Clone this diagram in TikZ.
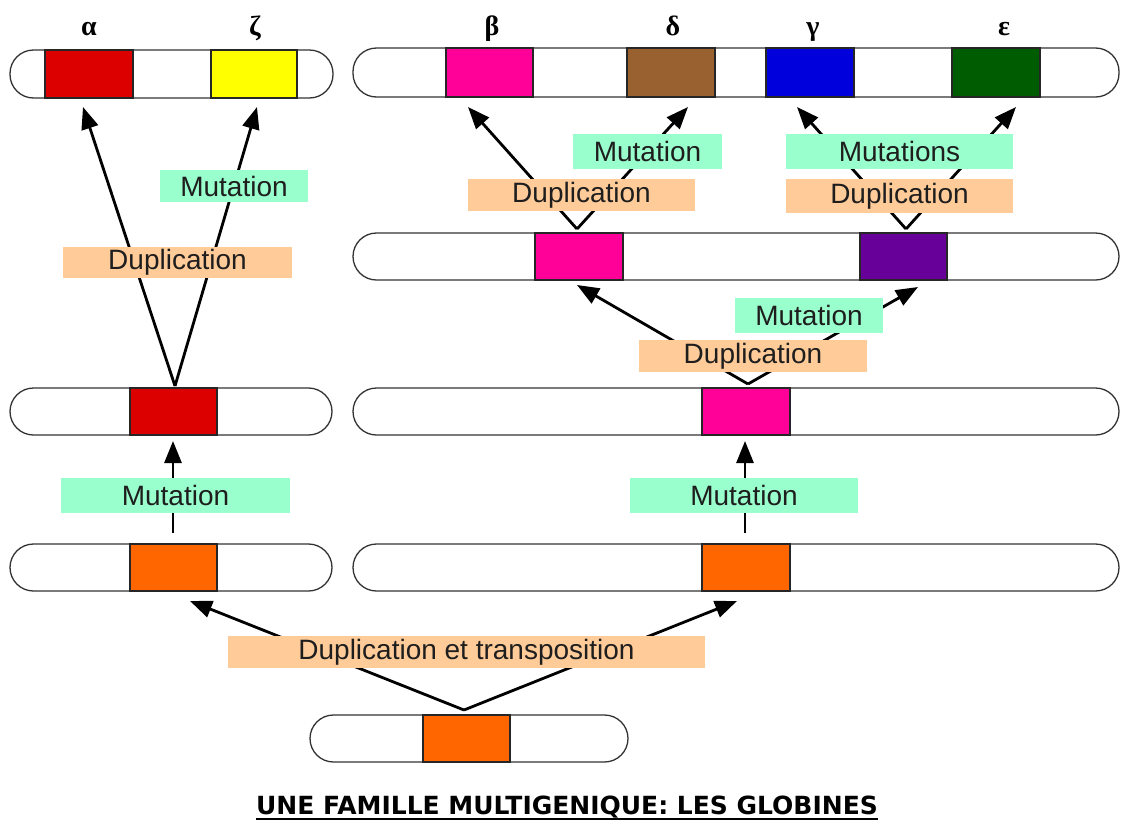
\documentclass[tikz,border=0pt]{standalone}
\usepackage{fontspec}
\setmainfont{Liberation Sans}
\newfontfamily\grk{Liberation Serif}
\newfontfamily\ttl{DejaVu Sans}
\usetikzlibrary{arrows.meta}
\definecolor{cRed}{RGB}{221,0,0}
\definecolor{cYel}{RGB}{255,255,0}
\definecolor{cPink}{RGB}{255,0,153}
\definecolor{cBrown}{RGB}{153,96,48}
\definecolor{cBlue}{RGB}{0,0,221}
\definecolor{cGreen}{RGB}{0,92,0}
\definecolor{cPurple}{RGB}{102,0,153}
\definecolor{cOrange}{RGB}{255,102,0}
\definecolor{lblMut}{RGB}{153,255,204}
\definecolor{lblDup}{RGB}{255,204,153}
\definecolor{txt}{RGB}{30,30,30}
\begin{document}
\begin{tikzpicture}[x=1pt,y=-1pt,
  chrom/.style={draw=black!80,line width=1.3pt,fill=white,rounded corners=23.5pt,inner sep=0pt,minimum height=47pt},
  gene/.style={draw=black!85,line width=1.3pt,inner sep=0pt,minimum height=47pt,minimum width=87pt},
  lbl/.style={inner sep=0pt,text=txt,font=\fontsize{28}{30}\selectfont,minimum height=33pt},
  mut/.style={lbl,fill=lblMut},
  dup/.style={lbl,fill=lblDup},
  greek/.style={font=\grk\bfseries\fontsize{28}{30}\selectfont,anchor=base,inner sep=0pt},
  arr/.style={line width=2.8pt,-{Triangle[length=22pt,width=17pt]}},
  ln/.style={line width=3pt}]
\useasboundingbox (0,0) rectangle (1121,825);

% apex and tip coordinates
\coordinate (aL) at (175,386);
\coordinate (tA) at (83,107);
\coordinate (tZ) at (257,107);
\coordinate (aB) at (464,710);
\coordinate (tBL) at (190,601);
\coordinate (tBR) at (737,601);
\coordinate (aM) at (748,384);
\coordinate (tML) at (577,285);
\coordinate (tMR) at (918,287);
\coordinate (aP) at (577,229);
\coordinate (tBe) at (468,107);
\coordinate (tDe) at (688,107);
\coordinate (aU) at (906,229);
\coordinate (tGa) at (797,107);
\coordinate (tEp) at (1016,107);
\coordinate (mL0) at (173,533);
\coordinate (mL1) at (173,441);
\coordinate (mR0) at (745,533);
\coordinate (mR1) at (745,441);

% connectors (behind labels)
\draw[arr] (aL) -- (tA);
\draw[arr] (aL) -- (tZ);
\draw[arr] (aB) -- (tBL);
\draw[arr] (aB) -- (tBR);
\draw[arr] (aM) -- (tML);
\draw[arr] (aM) -- (tMR);
\draw[arr] (aP) -- (tBe);
\draw[arr] (aP) -- (tDe);
\draw[arr] (aU) -- (tGa);
\draw[arr] (aU) -- (tEp);
\draw[arr] (mL0) -- (mL1);
\draw[arr] (mR0) -- (mR1);

% chromosomes
\node[chrom,minimum width=323pt,minimum height=48pt] (c1) at (171.5,74) {};
\node[chrom,minimum width=766pt,minimum height=49pt] (c2) at (736,72.5) {};
\node[chrom,minimum width=766pt] (c3) at (736,256.5) {};
\node[chrom,minimum width=322pt] (c4) at (171,411.5) {};
\node[chrom,minimum width=766pt] (c5) at (736,411.5) {};
\node[chrom,minimum width=322pt] (c6) at (171,567.5) {};
\node[chrom,minimum width=766pt] (c7) at (736,567.5) {};
\node[chrom,minimum width=318pt] (c8) at (469,738.5) {};

% genes
\node[gene,fill=cRed,minimum width=88pt,minimum height=48pt] (gA) at (89,74) {};
\node[gene,fill=cYel,minimum width=86pt,minimum height=48pt] (gZ) at (254,74) {};
\node[gene,fill=cPink,minimum height=49pt] (gB) at (489.5,72.5) {};
\node[gene,fill=cBrown,minimum width=88pt,minimum height=49pt] (gD) at (671,72.5) {};
\node[gene,fill=cBlue,minimum width=88pt,minimum height=49pt] (gG) at (810,72.5) {};
\node[gene,fill=cGreen,minimum width=88pt,minimum height=49pt] (gE) at (996,72.5) {};
\node[gene,fill=cPink,minimum width=88pt] (gP2) at (579,256.5) {};
\node[gene,fill=cPurple] (gU2) at (903.5,256.5) {};
\node[gene,fill=cRed] (gR3) at (173.5,411.5) {};
\node[gene,fill=cPink,minimum width=88pt] (gP3) at (746,411.5) {};
\node[gene,fill=cOrange] (gO4L) at (173.5,567.5) {};
\node[gene,fill=cOrange,minimum width=88pt] (gO4R) at (746,567.5) {};
\node[gene,fill=cOrange] (gO5) at (466.5,738.5) {};

% greek labels
\node[greek] (lA) at (89,35) {α};
\node[greek] (lZ) at (255,35) {ζ};
\node[greek] (lB) at (492,35) {β};
\node[greek] (lD) at (673,35) {δ};
\node[greek] (lG) at (813,35) {γ};
\node[greek] (lE) at (1004,35) {ε};

% process labels
\node[mut,minimum width=148pt,minimum height=32pt] (m1) at (234,186) {Mutation};
\node[dup,minimum width=229pt,minimum height=31pt] (d1) at (177.5,262.5) {Duplication};
\node[mut,minimum width=229pt,minimum height=35pt] (m2) at (175.5,495.5) {Mutation};
\node[mut,minimum width=228pt,minimum height=35pt] (m3) at (744,495.5) {Mutation};
\node[dup,minimum width=477pt,minimum height=32pt] (d2) at (466.5,652) {Duplication et transposition};
\node[dup,minimum width=228pt,minimum height=32pt] (d3) at (753,356) {Duplication};
\node[mut,minimum width=148pt,minimum height=35pt] (m4) at (809,315.5) {Mutation};
\node[dup,minimum width=227pt,minimum height=32pt] (d4) at (581.5,195) {Duplication};
\node[mut,minimum width=149pt,minimum height=35pt] (m5) at (647.5,151.5) {Mutation};
\node[mut,minimum width=227pt,minimum height=35pt] (m6) at (899.5,151.5) {Mutations};
\node[dup,minimum width=227pt,minimum height=34pt] (d5) at (899.5,196) {Duplication};

% title
\node[font=\ttl\bfseries\fontsize{25}{27}\selectfont,anchor=base,inner sep=0pt] (title) at (567,814) {UNE FAMILLE MULTIGENIQUE: LES GLOBINES};
\draw[line width=2pt] ([yshift=-5pt]title.base west) -- ([yshift=-5pt]title.base east);
\end{tikzpicture}
\end{document}
